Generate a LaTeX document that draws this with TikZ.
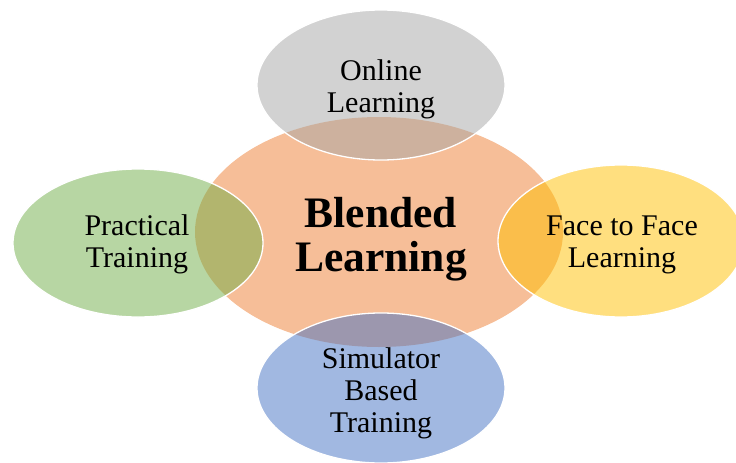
\documentclass[tikz,border=0pt]{standalone}
\usepackage{fontspec}
\setmainfont{Liberation Serif}
\usetikzlibrary{shapes.geometric}
\definecolor{cpeach}{HTML}{ED7D31}
\definecolor{cgray}{HTML}{A5A5A5}
\definecolor{cgreen}{HTML}{70AD47}
\definecolor{cgold}{HTML}{FFC000}
\definecolor{cblue}{HTML}{4472C4}
\tikzset{
  hub/.style={ellipse, inner sep=0pt, fill=cpeach, fill opacity=0.5, draw=none},
  sat/.style={ellipse, inner sep=0pt, fill opacity=0.5, draw=white, draw opacity=1, line width=1.3pt},
  lbl/.style={align=center, inner sep=0pt, font=\fontsize{30}{32}\selectfont, text=black},
  hublbl/.style={align=center, inner sep=0pt, font=\bfseries\fontsize{43.5}{44}\selectfont, text=black}
}
\begin{document}
\begin{tikzpicture}[x=1pt,y=-1pt]
\useasboundingbox (0,0) rectangle (736,463);
\begin{scope}
\clip (0,0) rectangle (736,463);
\node[hub, minimum width=368pt, minimum height=230pt] (hub) at (379,232) {};
\node[sat, fill=cgray, minimum width=248pt, minimum height=150pt] (top) at (381,85) {};
\node[sat, fill=cgreen, minimum width=250pt, minimum height=148pt] (left) at (138,243) {};
\node[sat, fill=cgold, minimum width=246pt, minimum height=152pt] (right) at (621,241) {};
\node[sat, fill=cblue, minimum width=248pt, minimum height=150pt] (bottom) at (381,388) {};
\end{scope}
\node[hublbl] (hubtext) at (381,239) {Blended\\Learning};
\node[lbl] (toptext) at (381,89) {Online\\Learning};
\node[lbl] (lefttext) at (137,244) {Practical\\Training};
\node[lbl] (righttext) at (622,244.5) {Face to Face\\Learning};
\node[lbl] (bottomtext) at (381,393) {Simulator\\Based\\Training};
\end{tikzpicture}
\end{document}
